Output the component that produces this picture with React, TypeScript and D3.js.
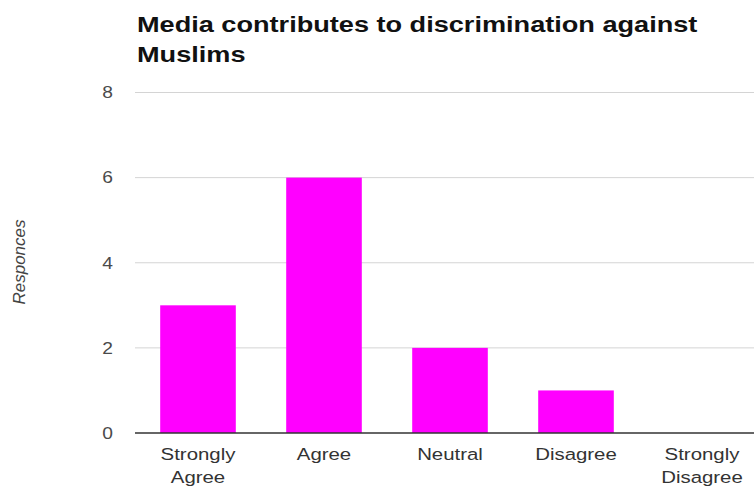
import React from "react";
import * as d3 from "d3";

const categories = ["Strongly Agree", "Agree", "Neutral", "Disagree", "Strongly Disagree"];
const responses = [3, 6, 2, 1, 0];
const yTicks = [0, 2, 4, 6, 8];
const titleLines = ["Media contributes to discrimination against", "Muslims"];
const yAxisTitle = "Responces";

const W = 754;
const H = 489;
const SX = 1.2;
const FONT = "'Liberation Sans', Arial, Helvetica, sans-serif";

export default function App() {
  const x = d3
    .scaleBand<string>()
    .domain(categories)
    .range([135, 765])
    .paddingInner(0.4)
    .paddingOuter(0.2);
  const y = d3.scaleLinear().domain([0, 8]).range([433, 92.5]);

  return (
    <svg
      width={W}
      height={H}
      style={{ position: "absolute", left: 0, top: 0, background: "#fff" }}
      fontFamily={FONT}
    >
      {/* title */}
      {titleLines.map((t, i) => (
        <g key={t} transform={`translate(137,${32 + i * 30}) scale(${SX},1)`}>
          <text fontSize={22.6} fontWeight="bold" fill="#111">
            {t}
          </text>
        </g>
      ))}

      {/* gridlines */}
      {yTicks.map((t) =>
        t === 0 ? null : (
          <line key={t} x1={135} x2={W} y1={y(t)} y2={y(t)} stroke="#d4d4d4" strokeWidth={1} />
        )
      )}

      {/* y tick labels */}
      {yTicks.map((t) => (
        <g key={"l" + t} transform={`translate(113,${y(t)}) scale(${SX},1)`}>
          <text fontSize={16} fill="#4a4a4a" textAnchor="end" dy="0.36em">
            {t}
          </text>
        </g>
      ))}

      {/* bars */}
      {categories.map((c, i) =>
        responses[i] > 0 ? (
          <rect
            key={c}
            x={x(c)}
            y={y(responses[i])}
            width={x.bandwidth()}
            height={y(0) - y(responses[i])}
            fill="#ff00ff"
          />
        ) : null
      )}

      {/* baseline */}
      <line x1={135} x2={W} y1={y(0)} y2={y(0)} stroke="#333" strokeWidth={1.5} />

      {/* x labels */}
      {categories.map((c) => {
        const words = c.split(" ");
        const cx = (x(c) as number) + x.bandwidth() / 2;
        return words.map((w, j) => (
          <g key={c + j} transform={`translate(${cx},${460 + j * 23}) scale(${SX},1)`}>
            <text fontSize={17} fill="#333" textAnchor="middle">
              {w}
            </text>
          </g>
        ));
      })}

      {/* y axis title */}
      <text
        transform="translate(25,262) rotate(-90)"
        fontSize={17}
        fontStyle="italic"
        fill="#444"
        textAnchor="middle"
      >
        {yAxisTitle}
      </text>
    </svg>
  );
}
